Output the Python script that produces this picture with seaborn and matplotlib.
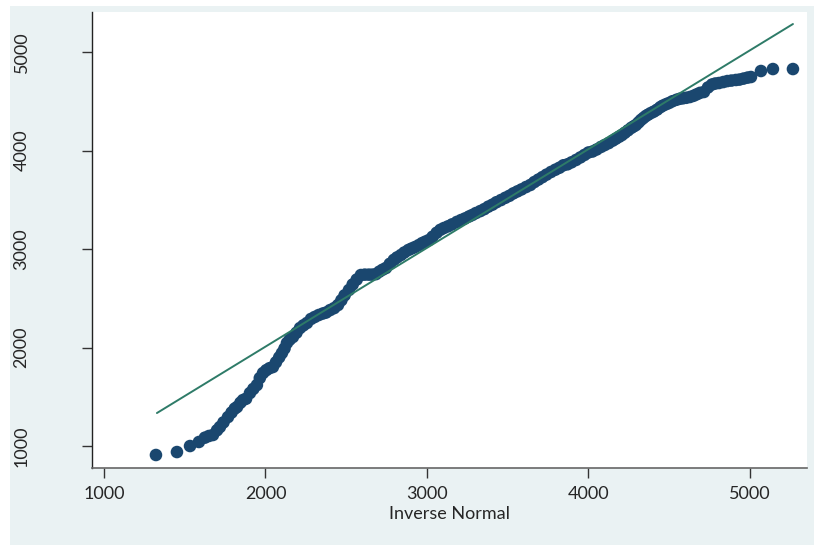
import pandas as pd
import seaborn as sns
import matplotlib.pyplot as plt
from matplotlib.patches import Rectangle

# Q-Q plot values (inverse normal vs sorted data)
inv_normal = [
    1322, 1452, 1533, 1588, 1625, 1650, 1675, 1700, 1718, 1740,
    1768, 1790, 1810, 1824, 1845, 1861, 1880, 1904, 1925, 1947,
    1965, 1985, 2005, 2025, 2046, 2065, 2085, 2102, 2118, 2133,
    2150, 2170, 2192, 2214, 2235, 2257, 2282, 2305, 2330, 2355,
    2375, 2400, 2425, 2449, 2470, 2490, 2517, 2540, 2565, 2591,
    2615, 2640, 2662, 2684, 2705, 2725, 2746, 2770, 2795, 2815,
    2839, 2860, 2885, 2905, 2926, 2950, 2970, 2990, 3012, 3035,
    3060, 3083, 3105, 3130, 3155, 3185, 3211, 3235, 3260, 3280,
    3303, 3330, 3355, 3380, 3405, 3430, 3458, 3485, 3510, 3535,
    3560, 3585, 3613, 3640, 3665, 3690, 3715, 3740, 3768, 3795,
    3820, 3845, 3870, 3895, 3923, 3950, 3975, 4000, 4025, 4050,
    4077, 4100, 4125, 4150, 4170, 4190, 4207, 4225, 4245, 4265,
    4280, 4294, 4310, 4325, 4340, 4355, 4370, 4387, 4405, 4425,
    4445, 4460, 4480, 4498, 4520, 4545, 4565, 4585, 4605, 4628,
    4650, 4670, 4690, 4715, 4740, 4765, 4785, 4808, 4835, 4860,
    4885, 4913, 4935, 4960, 4985, 5006, 5068, 5142, 5266,
]
sorted_vals = [
    909, 939, 1000, 1041, 1085, 1102, 1112, 1160, 1193, 1240,
    1294, 1340, 1380, 1396, 1440, 1467, 1480, 1538, 1580, 1619,
    1690, 1741, 1770, 1790, 1802, 1850, 1900, 1944, 1990, 2046,
    2080, 2107, 2150, 2198, 2225, 2249, 2290, 2310, 2330, 2345,
    2355, 2380, 2400, 2431, 2480, 2530, 2584, 2640, 2690, 2736,
    2740, 2740, 2740, 2745, 2770, 2790, 2807, 2850, 2890, 2915,
    2939, 2965, 2990, 3005, 3020, 3040, 3060, 3075, 3091, 3125,
    3165, 3195, 3213, 3230, 3250, 3275, 3294, 3310, 3330, 3345,
    3365, 3385, 3405, 3430, 3450, 3475, 3497, 3520, 3540, 3565,
    3585, 3605, 3629, 3650, 3680, 3705, 3730, 3755, 3782, 3805,
    3825, 3850, 3860, 3880, 3904, 3930, 3955, 3980, 3990, 4010,
    4036, 4055, 4075, 4100, 4120, 4140, 4157, 4180, 4205, 4230,
    4245, 4259, 4285, 4310, 4330, 4350, 4365, 4381, 4395, 4415,
    4440, 4455, 4470, 4482, 4500, 4515, 4525, 4530, 4535, 4543,
    4555, 4570, 4585, 4594, 4640, 4670, 4680, 4685, 4695, 4705,
    4710, 4716, 4720, 4730, 4740, 4746, 4807, 4827, 4827,
]
ref_x = [1328, 5266]
ref_y = [1335, 5284]
x_ticks = [1000, 2000, 3000, 4000, 5000]
y_ticks = [1000, 2000, 3000, 4000, 5000]

df = pd.DataFrame({"x": inv_normal, "y": sorted_vals})
ref = pd.DataFrame({"x": ref_x, "y": ref_y})

sns.set_style("white")
plt.rcParams["font.family"] = ["Lato", "DejaVu Sans"]

fig = plt.figure(figsize=(8.14, 5.45), dpi=100)
fig.patch.set_facecolor("white")
# light blue graph region (Stata style), kept behind the axes
fig.patches.append(Rectangle((10 / 814, 0), 1, 1 - 6 / 545, transform=fig.transFigure,
                             facecolor="#eaf2f3", edgecolor="none", zorder=-10))

ax = fig.add_axes([92 / 814, 1 - 468 / 545, (807 - 92) / 814, (468 - 12) / 545])
ax.set_zorder(1)
ax.set_facecolor("white")

sns.scatterplot(data=df, x="x", y="y", ax=ax, color="#1a476f", s=82,
                edgecolor="none", linewidth=0, zorder=2)
sns.lineplot(data=ref, x="x", y="y", ax=ax, color="#2e7b68", linewidth=1.4, zorder=3)

ax.set_xlim(926, 5353)
ax.set_ylim(777, 5406)
ax.set_xticks(x_ticks)
ax.set_yticks(y_ticks)
ax.set_xticklabels([str(t) for t in x_ticks], fontsize=13)
ax.set_yticklabels([str(t) for t in y_ticks], fontsize=13, rotation=90, va="center")
ax.set_xlabel("Inverse Normal", fontsize=13, labelpad=3)
ax.set_ylabel("")

ax.tick_params(axis="x", direction="out", length=7, width=1, color="#333333", pad=6, bottom=True)
ax.tick_params(axis="y", direction="out", length=7, width=1, color="#333333", pad=38, left=True)

for side in ["top", "right"]:
    ax.spines[side].set_visible(False)
ax.spines["left"].set_color("#222222")
ax.spines["bottom"].set_color("#666666")
ax.spines["left"].set_linewidth(1)
ax.spines["bottom"].set_linewidth(1.2)

fig.savefig("out.png", dpi=100)
